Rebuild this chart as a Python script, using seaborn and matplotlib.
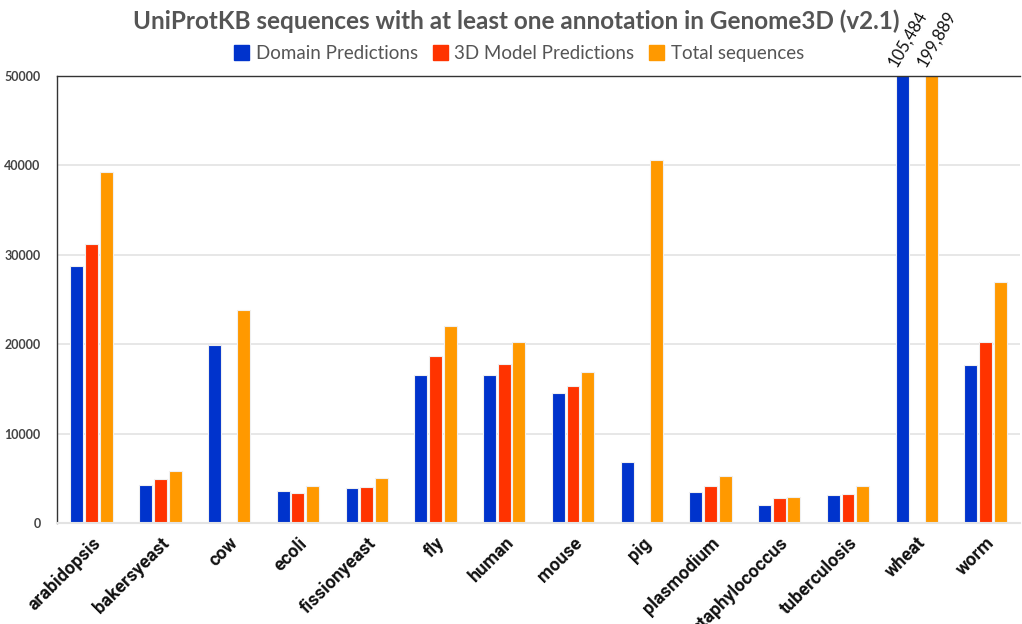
import numpy as np
import pandas as pd
import seaborn as sns
import matplotlib.pyplot as plt

organisms = ["arabidopsis", "bakersyeast", "cow", "ecoli", "fissionyeast", "fly", "human",
             "mouse", "pig", "plasmodium", "staphylococcus", "tuberculosis", "wheat", "worm"]
domain_preds = [28800, 4200, 19900, 3550, 3950, 16600, 16570, 14500, 6800, 3470, 2000, 3170, 105484, 17650]
model_preds = [31200, 4900, np.nan, 3300, 4000, 18700, 17800, 15300, np.nan, 4180, 2800, 3250, np.nan, 20300]
total_seqs = [39300, 5850, 23800, 4100, 5050, 22000, 20300, 16900, 40600, 5200, 2950, 4100, 199889, 27000]
series = ["Domain Predictions", "3D Model Predictions", "Total sequences"]
colors = ["#0033cc", "#ff3300", "#ff9900"]

df = pd.DataFrame({"organism": organisms, series[0]: domain_preds,
                   series[1]: model_preds, series[2]: total_seqs})
long = df.melt(id_vars="organism", var_name="series", value_name="count")

sns.set_style("white")
plt.rcParams["font.family"] = ["Lato", "DejaVu Sans"]

fig = plt.figure(figsize=(10.22, 6.24), dpi=100)
ax = fig.add_axes([0.056, 0.162, 0.942, 0.716])

sns.barplot(data=long, x="organism", y="count", hue="series", hue_order=series,
            palette=colors, saturation=1, width=0.64, gap=0.12, edgecolor="#f0f0f0",
            linewidth=0.8, ax=ax, legend=False)

ax.set_ylim(0, 50000)
ax.set_yticks([0, 10000, 20000, 30000, 40000, 50000])
ax.yaxis.grid(True, color="#e3e3e3", linewidth=1.2)
ax.set_axisbelow(True)
ax.set_xlabel("")
ax.set_ylabel("")
ax.set_xlim(-0.5, len(organisms) - 0.5)

for s in ["left", "top"]:
    ax.spines[s].set_color("#333333")
    ax.spines[s].set_linewidth(1.0)
ax.spines["right"].set_visible(False)
ax.spines["bottom"].set_color("#e3e3e3")
ax.spines["bottom"].set_linewidth(1.5)

ax.tick_params(axis="y", length=0, pad=12, labelsize=9, labelcolor="#444444")
for lbl in ax.get_yticklabels():
    lbl.set_fontweight("bold")

ax.set_xticks(range(len(organisms)))
ax.set_xticklabels(organisms, fontsize=13, fontweight="bold",
                   family=["Roboto", "DejaVu Sans"], color="#111111")
ax.tick_params(axis="x", length=0, pad=8, labelrotation=45)
plt.setp(ax.get_xticklabels(), ha="right", rotation_mode="anchor")

# values above clipped bars
top = ax.get_ylim()[1]
for cont, vals in zip(ax.containers, [domain_preds, model_preds, total_seqs]):
    for patch, v in zip(cont.patches, vals):
        if np.isfinite(v) and v > top:
            xc = patch.get_x() + patch.get_width() / 2
            ax.text(xc - 0.05, top + 800, f"{int(v):,}", rotation=60, ha="left", va="bottom",
                    fontsize=12, color="#111111", clip_on=False, rotation_mode="anchor")

handles = [plt.Rectangle((0, 0), 1, 1, color=c) for c in colors]
fig.legend(handles, series, loc="upper center", bbox_to_anchor=(0.508, 0.955), ncol=3,
           frameon=False, fontsize=13.5, handlelength=0.8, handleheight=0.8,
           handletextpad=0.35, columnspacing=0.8, labelcolor="#555555")

fig.suptitle("UniProtKB sequences with at least one annotation in Genome3D (v2.1)",
             x=0.505, y=0.985, fontsize=17.5, fontweight="bold", color="#555555")

fig.savefig("out.png", dpi=100)
